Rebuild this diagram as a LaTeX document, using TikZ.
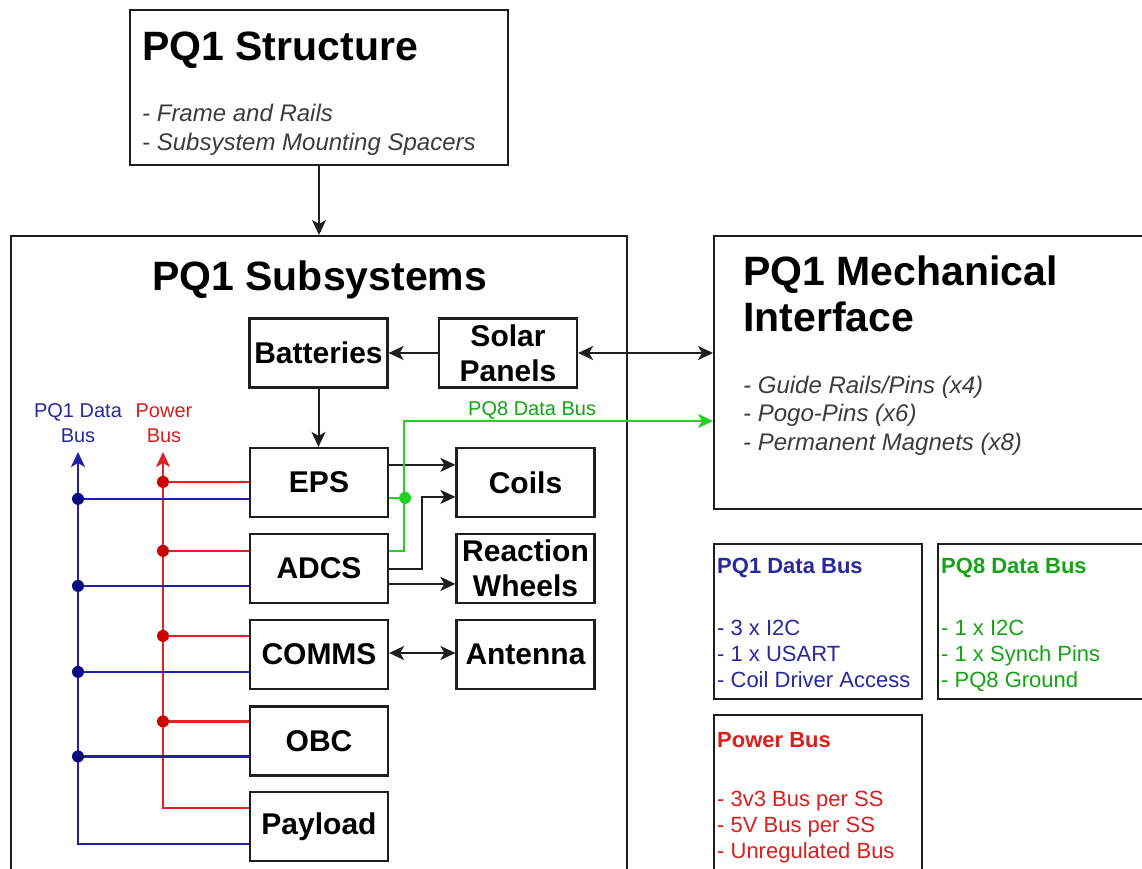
\documentclass[tikz,border=0pt]{standalone}
\usepackage{fontspec}
\setmainfont{Liberation Sans}
\usetikzlibrary{arrows.meta,calc}

\definecolor{busblue}{RGB}{32,32,168}
\definecolor{busred}{RGB}{224,36,36}
\definecolor{busgreen}{RGB}{34,208,34}
\definecolor{txtblue}{RGB}{40,40,160}
\definecolor{txtred}{RGB}{220,30,30}
\definecolor{txtgreen}{RGB}{20,165,20}
\definecolor{dotblue}{RGB}{10,10,130}
\definecolor{dotred}{RGB}{205,0,0}
\definecolor{edge}{RGB}{30,30,30}
\definecolor{note}{RGB}{60,60,60}

\tikzset{
  frame/.style={draw=edge, line width=2.2pt, inner sep=0pt},
  unit/.style={frame, minimum width=138pt, minimum height=69pt,
    font=\fontsize{30}{35}\selectfont\bfseries, align=center},
  title/.style={anchor=base west, inner sep=0pt, font=\fontsize{41}{46}\selectfont\bfseries},
  item/.style={anchor=base west, inner sep=0pt, font=\fontsize{24}{28}\selectfont\itshape, text=note},
  legtitle/.style={anchor=base west, inner sep=0pt, font=\fontsize{22}{26}\selectfont\bfseries},
  legitem/.style={anchor=base west, inner sep=0pt, font=\fontsize{22}{26}\selectfont},
  buslbl/.style={anchor=base, inner sep=0pt, font=\fontsize{20}{24}\selectfont},
  tip/.tip={Stealth[length=15pt,width=14pt,inset=4pt]},
  link/.style={draw=edge, line width=2pt, -tip},
  both/.style={draw=edge, line width=2pt, tip-tip},
  bluebus/.style={draw=busblue, line width=2.2pt},
  redbus/.style={draw=busred, line width=2.2pt},
  greenbus/.style={draw=busgreen, line width=2.2pt},
}

\begin{document}
\begin{tikzpicture}[x=1pt,y=-1pt]
\useasboundingbox (0,0) rectangle (1142,868);
\fill[white] (0,0) rectangle (1142,868);
\clip (0,0) rectangle (1142,868);

% ---- top-level blocks ----
\node[frame, minimum width=378pt, minimum height=155pt] (struct) at (319,87.5) {};
\node[frame, minimum width=616pt, minimum height=650pt, anchor=north west] (subsys) at (10,235) {};
\node[frame, minimum width=440pt, minimum height=273pt, anchor=north west] (mech) at (713,235) {};

\node[title] (structT) at (142,60) {PQ1 Structure};
\node[item] (structA) at (142,121) {- Frame and Rails};
\node[item] (structB) at (142,150) {- Subsystem Mounting Spacers};

\node[title] (subsysT) at (152,290) {PQ1 Subsystems};

\node[title] (mechT) at (743,285) {PQ1 Mechanical};
\node[title] (mechT2) at (743,331) {Interface};
\node[item] (mechA) at (743,393) {- Guide Rails/Pins (x4)};
\node[item] (mechB) at (743,421) {- Pogo-Pins (x6)};
\node[item] (mechC) at (743,450) {- Permanent Magnets (x8)};

% ---- subsystem blocks ----
\node[unit] (batt)  at (318.5,353) {Batteries};
\node[unit] (solar) at (508,353) {Solar\\Panels};
\node[unit] (eps)   at (319,482.5) {EPS};
\node[unit] (coils) at (525.5,482.5) {Coils};
\node[unit] (adcs)  at (319,568.5) {ADCS};
\node[unit] (rw)    at (525.5,568.5) {Reaction\\Wheels};
\node[unit] (comms) at (319,654.5) {COMMS};
\node[unit] (ant)   at (525.5,654.5) {Antenna};
\node[unit] (obc)   at (319,741) {OBC};
\node[unit] (pay)   at (319,826.5) {Payload};

% ---- mechanical / energy / actuator links ----
\draw[link] (struct.south) -- (struct.south |- subsys.north);
\draw[link] (solar.west) -- (batt.east);
\draw[both] (solar.east) -- (solar.east -| mech.west);
\draw[link] (batt.south) -- (batt.south |- eps.north);
\draw[link] ($(eps.north east)+(0,18)$) -- ($(coils.north west)+(0,18)$);
\coordinate (adcsbend) at (422,568.5);
\draw[link] (adcs.east) -- (adcsbend) |- ($(coils.north west)+(0,50)$);
\draw[link] ($(adcs.north east)+(0,51)$) -- ($(rw.north west)+(0,51)$);
\draw[both] ($(comms.east)+(0,-1.5)$) -- ($(ant.west)+(0,-1.5)$);

% ---- PQ8 data bus ----
\coordinate (gx) at (404,421);
\draw[greenbus, -tip] ($(adcs.north east)+(0,18)$) -| (gx) -- (gx -| mech.west);
\draw[greenbus] ($(eps.north east)+(0,51)$) -- ++(16,0) coordinate (gdot);
\fill[busgreen] (gdot) circle (6pt);
\node[buslbl, anchor=base west, text=txtgreen] (pq8lbl) at (468,415) {PQ8 Data Bus};

% ---- power and PQ1 data buses ----
\coordinate (blueTop) at (78,452);
\coordinate (redTop) at (163,452);
\draw[redbus, -tip] ($(pay.north west)+(0,17)$) -| (redTop);
\foreach \b/\o in {eps/35, adcs/18, comms/17, obc/16} {
  \draw[redbus] ($(\b.north west)+(0,\o)$) -- ($(redTop |- \b.north west)+(0,\o)$) coordinate (r-\b);
  \fill[dotred] (r-\b) circle (6pt);
}
\draw[bluebus, -tip] ($(pay.north west)+(0,53)$) -| (blueTop);
\foreach \b/\o in {eps/52, adcs/53, comms/53, obc/51} {
  \draw[bluebus] ($(\b.north west)+(0,\o)$) -- ($(blueTop |- \b.north west)+(0,\o)$) coordinate (b-\b);
  \fill[dotblue] (b-\b) circle (6pt);
}
\node[buslbl, text=txtblue] (pq1lblA) at (78,417) {PQ1 Data};
\node[buslbl, text=txtblue] (pq1lblB) at (78,442) {Bus};
\node[buslbl, text=txtred] (pwrlblA) at (164,417) {Power};
\node[buslbl, text=txtred] (pwrlblB) at (164,442) {Bus};

% ---- bus legends ----
\node[frame, minimum width=208pt, minimum height=155pt, anchor=north west] (legA) at (713,543) {};
\node[frame, minimum width=225pt, minimum height=155pt, anchor=north west] (legB) at (937,543) {};
\node[frame, minimum width=208pt, minimum height=175pt, anchor=north west] (legC) at (713,714) {};

\node[legtitle, text=txtblue] (legAT) at (717,573) {PQ1 Data Bus};
\node[legitem, text=txtblue] (legA1) at (717,635) {- 3 x I2C};
\node[legitem, text=txtblue] (legA2) at (717,661) {- 1 x USART};
\node[legitem, text=txtblue] (legA3) at (717,687) {- Coil Driver Access};

\node[legtitle, text=txtgreen] (legBT) at (941,573) {PQ8 Data Bus};
\node[legitem, text=txtgreen] (legB1) at (941,635) {- 1 x I2C};
\node[legitem, text=txtgreen] (legB2) at (941,661) {- 1 x Synch Pins};
\node[legitem, text=txtgreen] (legB3) at (941,687) {- PQ8 Ground};

\node[legtitle, text=txtred] (legCT) at (717,747) {Power Bus};
\node[legitem, text=txtred] (legC1) at (717,806) {- 3v3 Bus per SS};
\node[legitem, text=txtred] (legC2) at (717,832) {- 5V Bus per SS};
\node[legitem, text=txtred] (legC3) at (717,858) {- Unregulated Bus};
\end{tikzpicture}
\end{document}
